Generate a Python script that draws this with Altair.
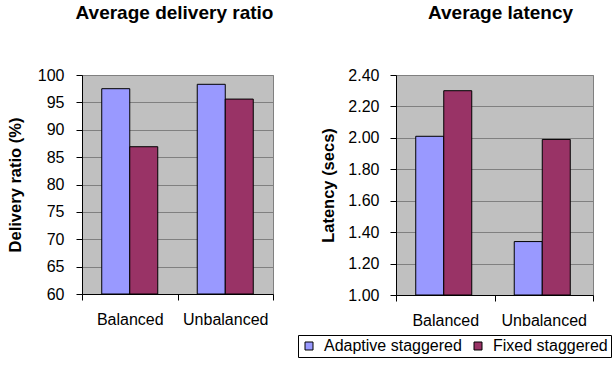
import altair as alt
import pandas as pd

# Scenario groups and the two scheduling strategies
groups = ["Balanced", "Unbalanced"]
series = ["Adaptive staggered", "Fixed staggered"]
colors = ["#9999FF", "#993366"]

# Average delivery ratio (%)
delivery_adaptive = [97.5, 98.3]
delivery_fixed = [86.9, 95.6]

# Average latency (secs)
latency_adaptive = [2.01, 1.34]
latency_fixed = [2.30, 1.99]

delivery_ticks = [60, 65, 70, 75, 80, 85, 90, 95, 100]
latency_ticks = [1.0, 1.2, 1.4, 1.6, 1.8, 2.0, 2.2, 2.4]


def frame(adaptive, fixed):
    rows = []
    for g, a, f in zip(groups, adaptive, fixed):
        rows.append({"group": g, "series": series[0], "value": a})
        rows.append({"group": g, "series": series[1], "value": f})
    return pd.DataFrame(rows)


FONT = "Liberation Sans"

# Boxed legend sitting under the latency panel
legend = alt.Legend(
    title=None,
    orient="none",
    legendX=-98,
    legendY=260,
    direction="horizontal",
    symbolType="square",
    symbolSize=64,
    symbolStrokeColor="black",
    symbolStrokeWidth=1,
    symbolOpacity=1,
    labelFontSize=16,
    labelFont=FONT,
    labelColor="black",
    labelOffset=7,
    columnPadding=8,
    padding=3,
    strokeColor="black",
    fillColor="white",
)


def panel(df, title, ytitle, domain, ticks, fmt, width, height, title_dx, label_pad, title_pad, show_legend):
    x = alt.X(
        "group:N",
        sort=groups,
        scale=alt.Scale(paddingInner=0, paddingOuter=0),
        axis=alt.Axis(
            title=None,
            labelAngle=0,
            tickBand="extent",
            grid=False,
            tickSize=6,
            labelPadding=11,
            labelFontSize=16,
        ),
    )
    y = alt.Y(
        "value:Q",
        scale=alt.Scale(domain=domain, zero=False, nice=False),
        axis=alt.Axis(
            title=ytitle,
            values=ticks,
            format=fmt,
            grid=True,
            gridColor="#808080",
            gridWidth=1,
            tickSize=6,
            labelPadding=label_pad,
            labelFontSize=16,
            titleFontSize=16.5,
            titleFontWeight="bold",
            titlePadding=title_pad,
        ),
    )
    color = alt.Color(
        "series:N",
        sort=series,
        scale=alt.Scale(domain=series, range=colors),
        legend=legend if show_legend else None,
    )
    return (
        alt.Chart(df)
        .mark_bar(stroke="black", strokeWidth=1, opacity=1)
        .encode(
            x=x,
            xOffset=alt.XOffset(
                "series:N",
                sort=series,
                scale=alt.Scale(paddingInner=0, paddingOuter=0.705),
            ),
            y=y,
            y2=alt.datum(domain[0]),
            color=color,
        )
        .properties(
            width=width,
            height=height,
            title=alt.TitleParams(
                text=title,
                font=FONT,
                fontSize=19,
                fontWeight="bold",
                anchor="middle",
                offset=44,
                dx=title_dx,
            ),
        )
    )


left = panel(
    frame(delivery_adaptive, delivery_fixed),
    "Average delivery ratio",
    "Delivery ratio (%)",
    [60, 100],
    delivery_ticks,
    "d",
    191,
    219,
    -3,
    12,
    14,
    False,
)
right = panel(
    frame(latency_adaptive, latency_fixed),
    "Average latency",
    "Latency (secs)",
    [1.0, 2.4],
    latency_ticks,
    ".2f",
    197,
    220,
    6,
    11,
    11,
    True,
)

chart = (
    alt.hconcat(left, right, spacing=23)
    .resolve_legend(color="independent")
    .properties(padding={"left": 6, "top": 3, "right": 0, "bottom": 0})
    .configure(font=FONT)
    .configure_view(fill="#C0C0C0", stroke="#808080", strokeWidth=1)
    .configure_axis(
        domainColor="black",
        tickColor="black",
        labelColor="black",
        titleColor="black",
        labelFont=FONT,
        titleFont=FONT,
    )
)

chart.save("out.html", embed_options={"renderer": "svg", "actions": False})
